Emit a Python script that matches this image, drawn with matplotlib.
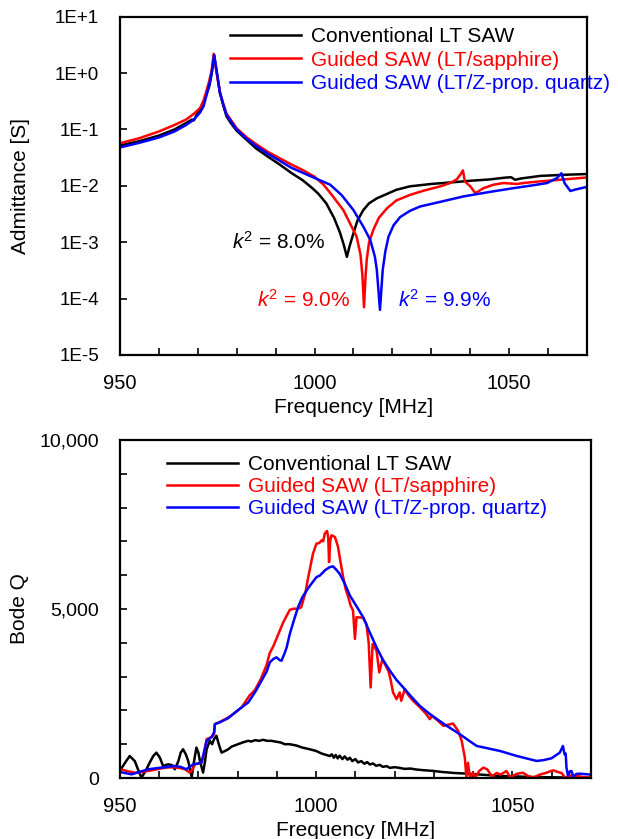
import numpy as np
import matplotlib.pyplot as plt
from matplotlib.ticker import MultipleLocator, FuncFormatter, FixedLocator, NullLocator

plt.rcParams["font.family"] = ["Liberation Sans", "DejaVu Sans"]
plt.rcParams["mathtext.fontset"] = "custom"
plt.rcParams["mathtext.rm"] = "Liberation Sans"
plt.rcParams["mathtext.it"] = "Liberation Sans:italic"

# -------------------------
# Admittance data (top panel)
# -------------------------
f_black_adm = [950, 955, 960, 964, 967, 968.5, 969, 970, 971, 972, 973, 973.6, 974.2, 974.8,
               975.7, 976.6, 977.4, 978.5, 980, 982.6, 985, 988, 991, 994, 997, 999.5, 1001,
               1003, 1005, 1006.5, 1007.5, 1008.3, 1009, 1010, 1011, 1012.5, 1014, 1016, 1018,
               1021, 1024.5, 1030, 1035, 1040, 1045, 1049, 1050.5, 1051.5, 1053, 1058, 1064, 1070]
adm_black = [0.052, 0.062, 0.078, 0.10, 0.13, 0.15, 0.145, 0.2, 0.25, 0.38, 0.6, 1.0, 2.1, 1.1,
             0.44, 0.26, 0.17, 0.13, 0.095, 0.065, 0.046, 0.033, 0.024, 0.017, 0.0125, 0.009, 0.0072,
             0.0049, 0.0027, 0.0015, 0.0009, 0.00055, 0.00085, 0.00145, 0.0024, 0.0037, 0.0049, 0.006, 0.0069,
             0.0085, 0.0098, 0.0108, 0.0115, 0.0123, 0.013, 0.014, 0.0142, 0.0128, 0.0135, 0.015, 0.0157, 0.0162]

f_red_adm = [950, 955, 960, 964, 967, 969, 970.6, 971.5, 972.3, 973, 973.6, 974.1, 974.7, 975.7,
             976.6, 977.4, 980, 982.6, 985, 988, 991, 994, 997, 1000, 1002.3, 1004.5, 1007.4, 1009.5,
             1010.8, 1011.8, 1012.3, 1012.7, 1013.1, 1013.4, 1014, 1015.1, 1016.5, 1018.6, 1021, 1024.5,
             1028, 1032.3, 1034.8, 1036.5, 1037.5, 1038.1, 1038.6, 1040, 1041.3, 1043.4, 1046, 1048.5,
             1052, 1054, 1058, 1064, 1070]
adm_red = [0.057, 0.07, 0.092, 0.12, 0.15, 0.19, 0.24, 0.33, 0.5, 0.75, 1.15, 2.2, 1.2, 0.46,
           0.28, 0.19, 0.105, 0.072, 0.055, 0.040, 0.031, 0.024, 0.019, 0.0145, 0.0105, 0.0068, 0.0037, 0.0019,
           0.00126, 0.0006, 0.00025, 0.00007, 0.00025, 0.00049, 0.001, 0.00166, 0.0027, 0.004, 0.0055, 0.0069,
           0.0082, 0.0098, 0.0112, 0.013, 0.016, 0.0188, 0.012, 0.0098, 0.0074, 0.0091, 0.0105, 0.0112,
           0.0108, 0.0113, 0.012, 0.013, 0.0141]

f_blue_adm = [950, 955, 960, 964, 967, 969, 970.6, 971.5, 972.3, 973, 973.6, 974.2, 974.8, 975.7,
              976.6, 977.4, 980, 982.6, 985, 988, 991, 994, 997, 1000, 1004, 1007, 1010, 1012.5,
              1014.3, 1015.5, 1016, 1016.8, 1017.5, 1018.2, 1019, 1020.3, 1022, 1024.5, 1027.1, 1032.3,
              1038.3, 1045, 1051.1, 1056, 1059.7, 1062.3, 1063.4, 1064.2, 1065.7, 1067, 1070]
adm_blue = [0.048, 0.058, 0.072, 0.092, 0.12, 0.15, 0.2, 0.26, 0.42, 0.65, 1.05, 2.1, 1.15, 0.45,
            0.27, 0.18, 0.1, 0.068, 0.051, 0.037, 0.028, 0.021, 0.017, 0.0138, 0.0105, 0.0068, 0.0037, 0.0019,
            0.0011, 0.00055, 0.00032, 0.000063, 0.00032, 0.0007, 0.00126, 0.002, 0.0028, 0.0036, 0.0043, 0.0052,
            0.0065, 0.0078, 0.0091, 0.0102, 0.0112, 0.0138, 0.0167, 0.0112, 0.0081, 0.0086, 0.0096]

# -------------------------
# Bode Q data (bottom panel)
# -------------------------
f_black_q = [950, 951.3, 952.5, 953.8, 954.8, 955.5, 956.5, 957.6, 958.5, 959.3, 960.2, 961, 962.3,
             963.3, 964, 964.9, 965.5, 966.1, 966.8, 967.4, 968.3, 968.9, 969.5, 970, 970.4, 971.2,
             971.7, 972.1, 972.9, 973.5, 974.0, 974.6, 975.2, 975.9, 976.8, 977.6, 978.5, 980.1, 981.5,
             982.7, 983.5, 984.5, 985.5, 986.5, 987.5, 988.6, 990, 991, 992, 993.3, 995, 996.5, 998.4,
             1000, 1001.5, 1003.5, 1004, 1004.5, 1005, 1005.5, 1006, 1006.7, 1007.3, 1008, 1008.6,
             1009.2, 1010, 1010.7, 1011.5, 1012.3, 1013, 1013.7, 1014.5, 1015.3, 1016.2, 1017, 1018,
             1018.8, 1020, 1021.3, 1022.5, 1024, 1025.6, 1027.5, 1029.8, 1032, 1035, 1038.3, 1042,
             1046.8, 1050, 1055.3, 1060, 1065, 1070]
q_black = [210, 450, 650, 500, 200, 10, 200, 455, 650, 750, 600, 356, 405,
           380, 258, 500, 750, 850, 700, 504, 30, 500, 900, 750, 504, 160,
           500, 850, 1100, 1000, 1150, 1250, 1000, 750, 800, 850, 930, 1000, 1060,
           1100, 1080, 1120, 1100, 1130, 1100, 1100, 1070, 1050, 1000, 1000, 960, 900, 850,
           800, 720, 650, 700, 600, 680, 580, 660, 560, 640, 540, 600,
           500, 560, 460, 500, 420, 470, 400, 430, 360, 390, 330, 350,
           300, 320, 300, 270, 280, 250, 230, 210, 180, 150, 130, 100,
           60, 50, 30, 20, 15, 10]

f_red_q = [950, 952, 953.8, 955.5, 957.2, 959.5, 961.5, 963.9, 965.5, 966.6, 967.8, 968.5, 969.1,
           970, 970.8, 971.4, 972.1, 973.4, 974.0, 974.2, 975.5, 977.6, 979, 981, 983.1, 984.4, 986,
           987.4, 988.2, 989.1, 990, 991.6, 992.5, 993.3, 994.3, 995.3, 996.2, 996.7, 997.3, 998,
           999.2, 1000.1, 1000.8, 1001.4, 1001.8, 1002.2, 1002.8, 1003.1, 1003.3, 1003.6, 1003.9,
           1004.8, 1005.6, 1006.2, 1006.9, 1007.5, 1008.2, 1008.8, 1009.4, 1009.9, 1010.3, 1011,
           1012, 1012.8, 1013.4, 1013.9, 1014.4, 1015.4, 1016.1, 1016.9, 1017.6, 1018.4, 1019,
           1019.6, 1020.5, 1021.3, 1021.7, 1022.6, 1023.5, 1024.7, 1026.4, 1028, 1029, 1029.5, 1031,
           1032.4, 1033.8, 1034.9, 1036.2, 1037.1, 1037.9, 1038.3, 1038.7, 1039.2, 1040, 1040.6,
           1041.5, 1042.6, 1043.6, 1044.8, 1046, 1047, 1048.5, 1049.5, 1051, 1052.7, 1054, 1055.3,
           1057, 1058.5, 1060.4, 1061.5, 1062.5, 1063.5, 1065, 1066.5, 1068, 1070]
q_red = [258, 200, 157, 180, 208, 260, 306, 320, 290, 258, 157, 250, 405,
         430, 455, 700, 1148, 1216, 1300, 1593, 1660, 1790, 1900, 2086, 2450, 2600, 2950,
         3350, 3700, 3900, 4150, 4600, 4800, 4975, 5010, 5005, 5050, 5252, 5500, 5943,
         6637, 6934, 6950, 7032, 7000, 7230, 7308, 7100, 6388, 7000, 7180,
         7130, 6833, 6400, 5943, 5600, 5350, 5100, 4955, 4115, 4756, 4750,
         4738, 4560, 4000, 2680, 3967, 3768, 3125, 3521, 3350, 3175, 2900,
         2531, 2335, 2531, 2285, 2632, 2450, 2285, 2100, 1900, 1741, 1840, 1700,
         1543, 1580, 1611, 1395, 1098, 603, 10, 450, 10, 157, 10,
         200, 306, 257, 50, 150, 100, 208, 10, 120, 157, 60, 10,
         100, 150, 228, 180, 150, 10, 80, 60, 30, 10]

f_blue_q = [950, 953, 955, 957.2, 960, 962, 964, 965.5, 966.9, 968.7, 970, 970.8, 971.5, 972.1,
            973.4, 974.0, 974.2, 975.5, 977.6, 980, 982.7, 984.5, 986.1, 987.4, 988.2, 989.1, 989.9,
            990.8, 991.2, 992, 992.5, 993.3, 994.3, 995.4, 996.5, 997.6, 998.5, 1000.1, 1001, 1002.3,
            1003.5, 1004.3, 1005, 1006, 1007.3, 1008.6, 1010.3, 1012, 1013.7, 1015.4, 1017, 1018.8,
            1020.5, 1022.2, 1024.3, 1026.4, 1029, 1032.8, 1036.6, 1040.9, 1046.8, 1051.1, 1056.2,
            1058, 1060, 1062.1, 1062.9, 1063.3, 1063.6, 1063.8, 1064.2, 1064.7, 1065.1, 1065.6,
            1066.3, 1067.2, 1070]
q_blue = [178, 108, 180, 258, 300, 330, 356, 330, 258, 405, 430, 455, 800, 1098,
          1216, 1350, 1593, 1650, 1770, 2000, 2234, 2550, 2878, 3150, 3420, 3521, 3570,
          3480, 3471, 3700, 3866, 4263, 4650, 5053, 5350, 5548, 5700, 5943, 5993, 6150,
          6240, 6260, 6180, 6043, 5750, 5400, 5080, 4756, 4300, 3866, 3500, 3175,
          2900, 2680, 2400, 2136, 1890, 1580, 1296, 949, 801, 653, 504,
          530, 584, 751, 949, 700, 720, 306, 59, 200, 206, 30,
          120, 128, 100]

labels = ["Conventional LT SAW", "Guided SAW (LT/sapphire)", "Guided SAW (LT/Z-prop. quartz)"]
colors = ["black", "red", "blue"]

fig = plt.figure(figsize=(6.18, 8.39), dpi=100)
ax1 = fig.add_axes([0.194, 0.577, 0.756, 0.403])
ax2 = fig.add_axes([0.194, 0.0727, 0.762, 0.4029])

# =========================================================
# 1. ADMITTANCE
# =========================================================
ax1.plot(f_black_adm, adm_black, color=colors[0], lw=1.8, label=labels[0])
ax1.plot(f_red_adm, adm_red, color=colors[1], lw=1.8, label=labels[1])
ax1.plot(f_blue_adm, adm_blue, color=colors[2], lw=1.8, label=labels[2])
ax1.set_yscale("log")
ax1.set_ylim(1e-5, 10)
ax1.set_xlim(950, 1070)
ax1.yaxis.set_major_locator(FixedLocator([1e-5, 1e-4, 1e-3, 1e-2, 1e-1, 1, 10]))
ax1.yaxis.set_minor_locator(NullLocator())
ax1.yaxis.set_major_formatter(FuncFormatter(lambda v, _: "1E{:+d}".format(int(round(np.log10(v))))))
ax1.set_ylabel("Admittance [S]", fontsize=15)
ax1.yaxis.set_label_coords(-0.193, 0.5)
ax1.tick_params(axis="y", which="major", labelsize=13.5)

ax1.text(1002.7, 1.03e-3, r"$\mathit{k}^{\mathrm{2}}$ = 8.0%", color="black", fontsize=15, ha="right", va="center")
ax1.text(1009.1, 0.95e-4, r"$\mathit{k}^{\mathrm{2}}$ = 9.0%", color="red", fontsize=15, ha="right", va="center")
ax1.text(1021.5, 0.95e-4, r"$\mathit{k}^{\mathrm{2}}$ = 9.9%", color="blue", fontsize=15, ha="left", va="center")

leg1 = ax1.legend(loc="upper left", bbox_to_anchor=(0.2355, 0.97), frameon=False, fontsize=15,
                  handlelength=3.4, handletextpad=0.5, labelspacing=0.22, borderpad=0, borderaxespad=0)

# =========================================================
# 2. BODE Q
# =========================================================
ax2.plot(f_black_q, q_black, color=colors[0], lw=1.8, label=labels[0])
ax2.plot(f_red_q, q_red, color=colors[1], lw=1.8, label=labels[1])
ax2.plot(f_blue_q, q_blue, color=colors[2], lw=1.8, label=labels[2])
ax2.set_ylim(0, 10000)
ax2.set_xlim(950, 1070)
ax2.yaxis.set_major_locator(MultipleLocator(5000))
ax2.yaxis.set_minor_locator(MultipleLocator(1000))
ax2.yaxis.set_major_formatter(FuncFormatter(lambda v, _: "{:,.0f}".format(v)))
ax2.set_ylabel("Bode Q", fontsize=15)
ax2.yaxis.set_label_coords(-0.193, 0.5)
ax2.tick_params(axis="y", which="major", labelsize=14)

leg2 = ax2.legend(loc="upper left", bbox_to_anchor=(0.0998, 0.955), frameon=False, fontsize=15,
                  handlelength=3.4, handletextpad=0.5, labelspacing=0.15, borderpad=0, borderaxespad=0)

for leg in (leg1, leg2):
    for txt, c in zip(leg.get_texts(), colors):
        txt.set_color(c)

for ax in (ax1, ax2):
    ax.xaxis.set_major_locator(MultipleLocator(50))
    ax.xaxis.set_minor_locator(MultipleLocator(10))
    ax.set_xlabel("Frequency [MHz]", fontsize=15)
    ax.xaxis.set_label_coords(0.5, -0.127)
    ax.tick_params(axis="both", which="both", direction="in", length=5, width=1.2,
                   top=False, right=False)
    ax.tick_params(axis="x", which="major", labelsize=14.5, pad=14)
    ax.tick_params(axis="y", which="major", pad=15)
    for s in ax.spines.values():
        s.set_linewidth(1.6)

fig.savefig("out.png", dpi=100)
